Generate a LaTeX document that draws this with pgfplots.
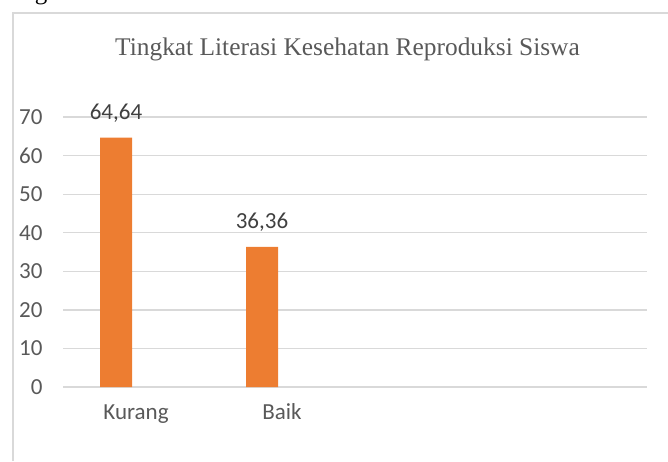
\documentclass[border=0pt]{standalone}
\usepackage{fontspec}
\setmainfont{Carlito}
\newfontfamily\titlefont{Liberation Serif}
\usepackage{pgfplots}
\pgfplotsset{compat=1.18}
\definecolor{barorange}{HTML}{ED7D31}
\definecolor{gridgray}{HTML}{D9D9D9}
\definecolor{txtgray}{HTML}{595959}
\definecolor{lblgray}{HTML}{404040}
\begin{document}
\begin{tikzpicture}[x=1pt,y=1pt]
\path[use as bounding box] (0,0) rectangle (668,-461);
\begin{scope}
\clip (0,0) rectangle (668,-461);
\node[font=\titlefont\fontsize{25}{30}\selectfont, text=black, anchor=base, inner sep=0pt] at (41,0.5) {g};
\end{scope}
\draw[gridgray, line width=1.5pt] (13,-461) -- (13,-13) -- (668,-13);
\node[font=\titlefont\fontsize{25.4}{30}\selectfont, text=txtgray, anchor=base] at (347.5,-55) {Tingkat Literasi Kesehatan Reproduksi Siswa};
\begin{axis}[
  at={(63pt,-387pt)}, anchor=south west,
  scale only axis, width=584pt, height=270pt,
  xmin=-0.5, xmax=3.5, ymin=0, ymax=70,
  axis line style={draw=none}, major tick length=0pt,
  ytick={0,10,...,70}, ymajorgrids, grid style={gridgray, line width=1.3pt},
  xtick={0,1}, xticklabels={Kurang,Baik},
  tick label style={font=\fontsize{23}{27}\selectfont, text=txtgray},
  /pgf/number format/assume math mode=true,
  yticklabel style={anchor=east, xshift=-17pt},
  xticklabel style={anchor=base, yshift=-32pt},
  ybar, bar width=32pt, bar shift=-20pt,
  nodes near coords={\pgfmathprintnumber[use comma,fixed,fixed zerofill,precision=2,assume math mode=true]{\pgfplotspointmeta}},
  nodes near coords style={font=\fontsize{23}{27}\selectfont, text=lblgray, anchor=south, yshift=12pt},
  clip=false,
]
\addplot[fill=barorange, draw=none] coordinates {(0,64.64) (1,36.36)};
\end{axis}
\end{tikzpicture}
\end{document}
